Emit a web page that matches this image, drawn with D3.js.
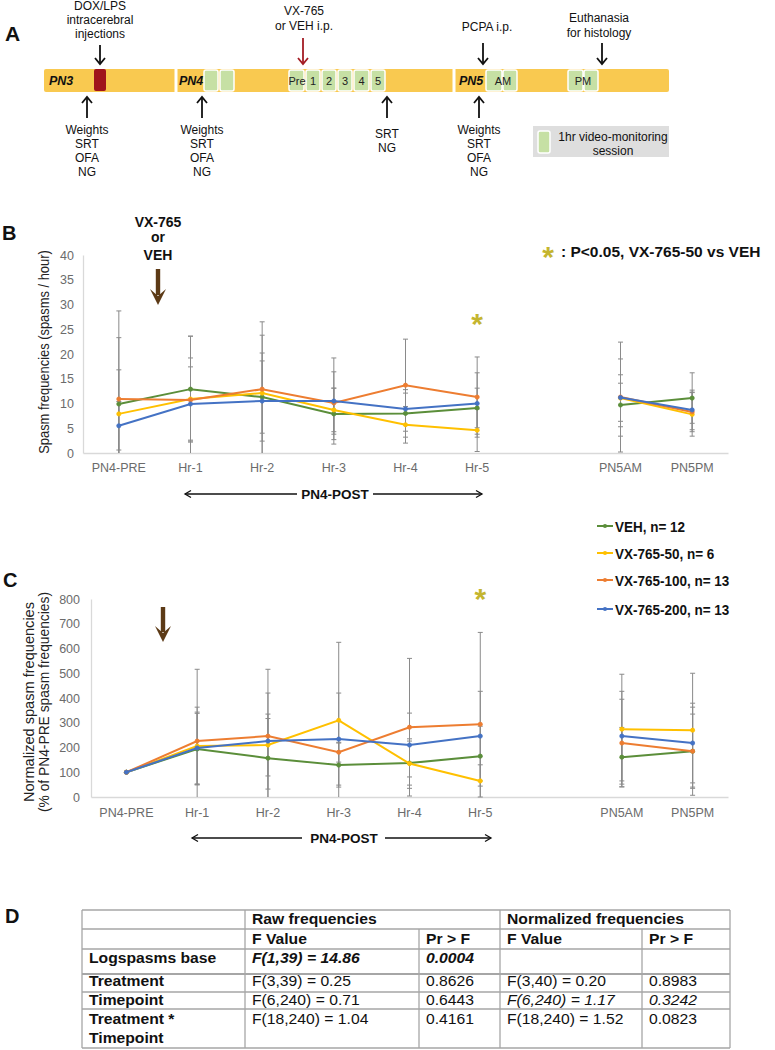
<!DOCTYPE html>
<html><head><meta charset="utf-8">
<script src="https://cdn.jsdelivr.net/npm/d3@7"></script>
<style>body{margin:0;background:#fff}svg{display:block}text{font-family:Arial,"Liberation Sans",Helvetica,sans-serif}</style>
</head><body><svg id="c" width="775" height="1050"></svg>
<script>
// ---------------- DATA ----------------
const timepoints = ["PN4-PRE","Hr-1","Hr-2","Hr-3","Hr-4","Hr-5","PN5AM","PN5PM"];
const seriesNames = ["VEH, n= 12","VX-765-50, n= 6","VX-765-100, n= 13","VX-765-200, n= 13"];
const seriesColors = ["#5B8E3A","#FFC000","#ED7D31","#4472C4"];
// Panel B: raw spasm frequencies (mean, SD)
const rawVEH   = [9.9, 12.9, 11.3, 7.9, 8.0, 9.1, 9.7, 11.1];
const rawVX50  = [7.9, 10.9, 12.1, 8.7, 5.7, 4.6, 11.1, 7.8];
const rawVX100 = [10.9, 10.7, 12.9, 10.1, 13.7, 11.3, 11.3, 8.3];
const rawVX200 = [5.5, 9.9, 10.5, 10.5, 8.9, 10.0, 11.2, 8.7];
const rawSdVEH   = [13.4, 10.7, 12.5, 5.2, 4.8, 4.0, 4.4, 5.1];
const rawSdVX50  = [8.9, 8.3, 8.1, 4.4, 3.7, 4.3, 4.7, 4.4];
const rawSdVX100 = [17.8, 12.9, 13.6, 6.3, 9.3, 8.1, 11.1, 4.0];
const rawSdVX200 = [4.9, 7.5, 8.1, 8.7, 3.2, 6.2, 7.8, 4.0];
// Panel C: normalized (% of PN4-PRE)
const normVEH   = [100, 194, 157, 129, 137, 165, 161, 185];
const normVX50  = [100, 206, 210, 310, 135, 65, 274, 270];
const normVX100 = [100, 226, 246, 181, 282, 294, 218, 185];
const normVX200 = [100, 198, 226, 234, 210, 246, 246, 218];
const normSdVEH   = [0, 144, 160, 89, 89, 121, 120, 150];
const normSdVX50  = [0, 157, 125, 315, 100, 65, 222, 230];
const normSdVX100 = [0, 290, 270, 40, 278, 371, 177, 178];
const normSdVX200 = [0, 145, 194, 186, 129, 181, 181, 161];
const rawTicks = [0,5,10,15,20,25,30,35,40];
const normTicks = [0,100,200,300,400,500,600,700,800];
// Panel D table
const tableGroups = ["Raw frequencies","Normalized frequencies"];
const tableCols = ["F Value","Pr > F","F Value","Pr > F"];
const tableRows = ["Logspasms base","Treatment","Timepoint","Treatment *|Timepoint"];
const rawF = ["F(1,39) = 14.86","F(3,39) = 0.25","F(6,240) = 0.71","F(18,240) = 1.04"];
const rawP = ["0.0004","0.8626","0.6443","0.4161"];
const normF = ["","F(3,40) = 0.20","F(6,240) = 1.17","F(18,240) = 1.52"];
const normP = ["","0.8983","0.3242","0.0823"];

const series = seriesNames.map((n,i)=>({name:n,color:seriesColors[i],
  raw:[rawVEH,rawVX50,rawVX100,rawVX200][i], rawSd:[rawSdVEH,rawSdVX50,rawSdVX100,rawSdVX200][i],
  norm:[normVEH,normVX50,normVX100,normVX200][i], normSd:[normSdVEH,normSdVX50,normSdVX100,normSdVX200][i]}));

// ---------------- HELPERS ----------------
const svg = d3.select('#c');
function fit(sel,f){ sel.each(function(){const l=this.getComputedTextLength(); if(l>0){this.setAttribute('textLength',(l*f).toFixed(1)); this.setAttribute('lengthAdjust','spacingAndGlyphs');}}); return sel; }
function txt(g,x,y,s,o={}){
  return g.append('text').attr('x',x).attr('y',y).text(s)
    .attr('font-size',o.size||12).attr('fill',o.fill||'#111')
    .attr('text-anchor',o.anchor||'middle')
    .attr('font-weight',o.bold?'bold':'normal')
    .attr('font-style',o.italic?'italic':'normal');
}
function vArrow(g,x,yTail,yTip,color,w=1.8,hw=5,hh=6){
  const d=Math.sign(yTip-yTail);
  g.append('line').attr('x1',x).attr('x2',x).attr('y1',yTail).attr('y2',yTip-d*0.8).attr('stroke',color).attr('stroke-width',w);
  g.append('path').attr('d',`M${x-hw},${yTip-d*hh}L${x},${yTip}L${x+hw},${yTip-d*hh}`).attr('fill','none').attr('stroke',color).attr('stroke-width',w);
}
function brownArrow(g,x,y0,y1){
  g.append('rect').attr('x',x-2.2).attr('y',y0).attr('width',4.4).attr('height',y1-y0-10).attr('fill','#5C3A16');
  g.append('path').attr('d',`M${x-8},${y1-16}L${x},${y1}L${x+8},${y1-16}L${x},${y1-9}Z`).attr('fill','#5C3A16');
}
function postArrow(g,x1,x2,y,tx,gapL,gapR){
  g.append('line').attr('x1',x1).attr('x2',gapL).attr('y1',y).attr('y2',y).attr('stroke','#111').attr('stroke-width',1.3);
  g.append('line').attr('x1',gapR).attr('x2',x2).attr('y1',y).attr('y2',y).attr('stroke','#111').attr('stroke-width',1.3);
  g.append('path').attr('d',`M${x1+6},${y-3.5}L${x1},${y}L${x1+6},${y+3.5}`).attr('fill','none').attr('stroke','#111').attr('stroke-width',1.3);
  g.append('path').attr('d',`M${x2-6},${y-3.5}L${x2},${y}L${x2-6},${y+3.5}`).attr('fill','none').attr('stroke','#111').attr('stroke-width',1.3);
  txt(g,tx,y+5,'PN4-POST',{size:13.5,bold:true});
}
function star(g,cx,cy){ txt(g,cx,cy+17,'*',{size:30,bold:true,fill:'#C4B52F'}); }

// ---------------- PANEL A ----------------
const A = svg.append('g');
txt(A,5,41,'A',{size:21,bold:true,anchor:'start'});
A.append('rect').attr('x',44).attr('y',69).attr('width',625).attr('height',23).attr('rx',2).attr('fill','#F9C950');
[176,454].forEach(x=>A.append('rect').attr('x',x-1.5).attr('y',67).attr('width',3).attr('height',27).attr('fill','#fff'));
A.append('rect').attr('x',94).attr('y',69).attr('width',12).attr('height',22).attr('rx',2).attr('fill','#A0141B');
const boxes = [[204,218],[220,234],[289,304],[306,320],[322,336],[338,352],[354,369],[371,385],[486,502],[503,517],[568,583],[584,598]];
boxes.forEach(b=>A.append('rect').attr('x',b[0]).attr('y',70).attr('width',b[1]-b[0]).attr('height',21).attr('rx',2)
  .attr('fill','#C6E0A4').attr('stroke','#fff').attr('stroke-width',1.5));
[['Pre',297],['1',313],['2',329],['3',345],['4',361.5],['5',378],['AM',503],['PM',583]].forEach(d=>txt(A,d[1],84.5,d[0],{size:11,fill:'#222'}));
[['PN3',49],['PN4',179],['PN5',459]].forEach(d=>txt(A,d[1],85,d[0],{size:12.5,bold:true,italic:true,anchor:'start'}));
// top annotations
[['DOX/LPS',9.5],['intracerebral',23.5],['injections',37.5]].forEach(d=>txt(A,100,d[1],d[0]));
vArrow(A,100,45,64,'#111');
[['VX-765',15],['or VEH i.p.',29.5]].forEach(d=>txt(A,304,d[1],d[0]));
vArrow(A,303,38,64,'#A31C24');
txt(A,487,31,'PCPA i.p.');
vArrow(A,483,43,64,'#111');
[['Euthanasia',22],['for histology',36.5]].forEach(d=>txt(A,599,d[1],d[0]));
vArrow(A,602,43,64,'#111');
// bottom annotations
[87,202,479].forEach(x=>{ vArrow(A,x,118,97,'#111'); ['Weights','SRT','OFA','NG'].forEach((s,i)=>txt(A,x,133.5+i*14,s)); });
vArrow(A,387,118,97,'#111');
txt(A,387,137.5,'SRT'); txt(A,387,151.5,'NG');
A.append('rect').attr('x',533).attr('y',126).attr('width',136).attr('height',31).attr('fill','#DEDEDE');
A.append('rect').attr('x',538).attr('y',131).attr('width',12).attr('height',22).attr('rx',2).attr('fill','#C6E0A4').attr('stroke','#fff').attr('stroke-width',1.5);
txt(A,613,140.5,'1hr video-monitoring'); txt(A,613,154.5,'session');

// ---------------- CHART PANELS ----------------
const slots = [...timepoints.slice(0,6),'',...timepoints.slice(6)];
function chart(cfg){
  const x = d3.scaleBand().domain(slots).range([cfg.x0,cfg.x1]);
  const y = d3.scaleLinear().domain([0,cfg.max]).range([cfg.y0,cfg.y1]);
  const g = svg.append('g');
  const ya = g.append('g').attr('transform',`translate(${cfg.x0},0)`)
    .call(d3.axisLeft(y).tickValues(cfg.ticks).tickSize(0).tickSizeOuter(0).tickPadding(cfg.tickPad));
  ya.select('.domain').attr('stroke','#d9d9d9').attr('stroke-width',1.3);
  ya.selectAll('text').attr('font-size',12.5).attr('fill','#6b6b6b').attr('font-family',null);
  const xa = g.append('g').attr('transform',`translate(0,${cfg.y0})`)
    .call(d3.axisBottom(x).tickSize(0).tickSizeOuter(0).tickPadding(cfg.labPad));
  xa.select('.domain').attr('stroke','#d9d9d9').attr('stroke-width',1.3);
  xa.selectAll('text').attr('font-size',12.5).attr('fill','#6b6b6b').attr('font-family',null);
  const cx = i => x(timepoints[i]) + x.bandwidth()/2;
  const eb = g.append('g').attr('stroke','#8a8a8a').attr('stroke-width',1);
  series.forEach(s=>{
    s[cfg.key].forEach((m,i)=>{
      const sd = s[cfg.key+'Sd'][i]; if(!sd) return;
      const lo = m-sd, hi = m+sd, X = cx(i);
      eb.append('line').attr('x1',X).attr('x2',X).attr('y1',y(Math.max(0,lo))).attr('y2',y(hi));
      eb.append('line').attr('x1',X-2.5).attr('x2',X+2.5).attr('y1',y(hi)).attr('y2',y(hi));
      if(lo>=0) eb.append('line').attr('x1',X-2.5).attr('x2',X+2.5).attr('y1',y(lo)).attr('y2',y(lo));
    });
  });
  // line broken at the empty slot between Hr-5 and PN5AM
  const line = d3.line().defined(d=>d.v!=null).x(d=>x(d.slot)+x.bandwidth()/2).y(d=>y(d.v));
  series.forEach(s=>{
    const pts = slots.map(sl=>{const k=timepoints.indexOf(sl); return {slot:sl, v: k<0?null:s[cfg.key][k]};});
    g.append('path').attr('d',line(pts)).attr('fill','none').attr('stroke',s.color).attr('stroke-width',2);
    g.selectAll(null).data(s[cfg.key]).enter().append('circle')
      .attr('cx',(d,i)=>cx(i)).attr('cy',d=>y(d)).attr('r',2.1).attr('fill',s.color).attr('stroke',s.color).attr('stroke-width',0.8);
  });
  return {x,y,g,cx};
}

// Panel B
const B = chart({x0:83,x1:728,y0:453,y1:255,max:40,ticks:rawTicks,key:'raw',tickPad:9,labPad:10});
txt(svg,2,240,'B',{size:20,bold:true,anchor:'start'});
svg.append('text').attr('transform','translate(49,352) rotate(-90)').attr('text-anchor','middle')
  .attr('font-size',15).attr('fill','#222').text('Spasm   frequencies (spasms / hour)').call(fit,0.86);
[['VX-765',227],['or',241.5],['VEH',260]].forEach(d=>txt(svg,158,d[1],d[0],{size:14,bold:true}));
brownArrow(svg,158,269,305);
star(svg,548,250);
txt(svg,561,257,': P<0.05, VX-765-50 vs VEH',{size:15.5,bold:true,anchor:'start'});
star(svg,B.cx(5),317);
postArrow(svg,185,482,494,335,297,373);

// Panel C
const C = chart({x0:91,x1:728,y0:797,y1:599,max:800,ticks:normTicks,key:'norm',tickPad:11,labPad:11});
txt(svg,3,587,'C',{size:20,bold:true,anchor:'start'});
svg.append('text').attr('transform','translate(34,702) rotate(-90)').attr('text-anchor','middle')
  .attr('font-size',15).attr('fill','#222').attr('textLength',200).attr('lengthAdjust','spacingAndGlyphs').text('Normalized spasm   frequencies');
svg.append('text').attr('transform','translate(49,702) rotate(-90)').attr('text-anchor','middle')
  .attr('font-size',15).attr('fill','#222').attr('textLength',220).attr('lengthAdjust','spacingAndGlyphs').text('(% of PN4-PRE spasm   frequencies)');
brownArrow(svg,163,607,642);
star(svg,C.cx(5),592);
postArrow(svg,192,491,838,344,302,385);

// Legend
const legY = [526,553,580,609];
series.forEach((s,i)=>{
  svg.append('line').attr('x1',597).attr('x2',613).attr('y1',legY[i]).attr('y2',legY[i]).attr('stroke',s.color).attr('stroke-width',2);
  svg.append('circle').attr('cx',605).attr('cy',legY[i]).attr('r',2.1).attr('fill',s.color);
  txt(svg,615,legY[i]+5.5,s.name,{size:15.5,bold:true,anchor:'start'}).call(fit,0.87);
});

// ---------------- PANEL D ----------------
const D = svg.append('g');
txt(D,5,923,'D',{size:20,bold:true,anchor:'start'});
const colX = [82,245,419,500,642,730];
const rowY = [910,929,949,974,992,1009,1048];
const tc = '#a6a6a6';
rowY.forEach((yy,i)=>D.append('line').attr('x1',colX[0]).attr('x2',colX[5]).attr('y1',yy).attr('y2',yy).attr('stroke',tc).attr('stroke-width',i===3?2.2:1.3));
colX.forEach((xx,j)=>{
  const top = (j===2||j===4)?rowY[1]:rowY[0];
  D.append('line').attr('x1',xx).attr('x2',xx).attr('y1',top).attr('y2',rowY[6]).attr('stroke',tc).attr('stroke-width',1.3);
});
const tx = colX.map(v=>v+7);
const F = 1.12;
txt(D,tx[1],924,tableGroups[0],{size:14,bold:true,anchor:'start'}).call(fit,F);
txt(D,tx[3],924,tableGroups[1],{size:14,bold:true,anchor:'start'}).call(fit,F);
tableCols.forEach((c,j)=>txt(D,tx[j+1],944,c,{size:14,bold:true,anchor:'start'}).call(fit,F));
const rowBase = [963,986,1005,1024];
tableRows.forEach((r,i)=>{
  r.split('|').forEach((part,k)=>txt(D,tx[0],rowBase[i]+k*19,part,{size:14,bold:true,anchor:'start'}).call(fit,F));
  const cells=[rawF[i],rawP[i],normF[i],normP[i]];
  cells.forEach((c,j)=>{ if(!c) return;
    const bi = (i===0&&j<2), it = (i===0&&j<2)||(i===2&&j>=2);
    txt(D,tx[j+1],rowBase[i],c,{size:14,bold:bi,italic:it,anchor:'start'}).call(fit,F);
  });
});
</script></body></html>
